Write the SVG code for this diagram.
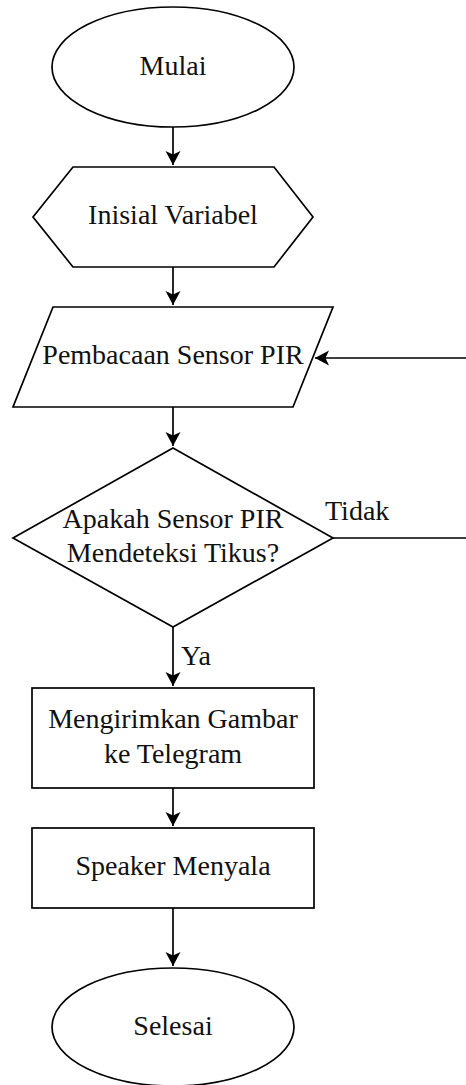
<svg xmlns="http://www.w3.org/2000/svg" width="466" height="1085" viewBox="0 0 466 1085">
<style>
.shape{fill:#fff;stroke:#000;stroke-width:1.7}
.t{font-family:"Liberation Serif","Times New Roman",serif;font-size:28px;fill:#111;text-anchor:middle}
.lbl{font-family:"Liberation Serif","Times New Roman",serif;font-size:28px;fill:#111}
.edge{fill:none;stroke:#000;stroke-width:1.7}
</style>
<defs>
<marker id="arr" markerUnits="userSpaceOnUse" markerWidth="16" markerHeight="16" viewBox="-14 -8 16 16" refX="0" refY="0" orient="auto">
<path d="M0,0 L-14,-7.5 L-10.5,0 L-14,7.5 Z" fill="#000"/>
</marker>
</defs>
<rect width="466" height="1085" fill="#fff"/>
<g id="connectors">
<path class="edge" d="M173,127 V165" marker-end="url(#arr)"/>
<path class="edge" d="M173,267 V305" marker-end="url(#arr)"/>
<path class="edge" d="M173,407 V446" marker-end="url(#arr)"/>
<path class="edge" d="M173,627 V686" marker-end="url(#arr)"/>
<path class="edge" d="M173,788 V826" marker-end="url(#arr)"/>
<path class="edge" d="M173,908 V966" marker-end="url(#arr)"/>
<path class="edge" d="M333,538 H472 V358 H315" marker-end="url(#arr)"/>
<text class="lbl" x="325" y="520">Tidak</text>
<text class="lbl" x="181" y="665">Ya</text>
</g>
<g id="mulai">
<ellipse class="shape" cx="173" cy="67" rx="121" ry="60"/>
<text class="t" x="173" y="75">Mulai</text>
</g>
<g id="inisial">
<polygon class="shape" points="73,167 274,167 313,217 274,267 73,267 33,217"/>
<text class="t" x="173" y="224">Inisial Variabel</text>
</g>
<g id="pembacaan">
<polygon class="shape" points="53,307 333,307 293,407 13,407"/>
<text class="t" x="173" y="364">Pembacaan Sensor PIR</text>
</g>
<g id="keputusan">
<polygon class="shape" points="173,448 333,538 173,627 13,538"/>
<text class="t" x="173" y="528">Apakah Sensor PIR</text>
<text class="t" x="173" y="562">Mendeteksi Tikus?</text>
</g>
<g id="kirim">
<rect class="shape" x="32" y="688" width="282" height="100"/>
<text class="t" x="173" y="728">Mengirimkan Gambar</text>
<text class="t" x="173" y="763">ke Telegram</text>
</g>
<g id="speaker">
<rect class="shape" x="32" y="828" width="282" height="80"/>
<text class="t" x="173" y="875">Speaker Menyala</text>
</g>
<g id="selesai">
<ellipse class="shape" cx="173" cy="1027" rx="121" ry="59"/>
<text class="t" x="173" y="1035">Selesai</text>
</g>
</svg>
